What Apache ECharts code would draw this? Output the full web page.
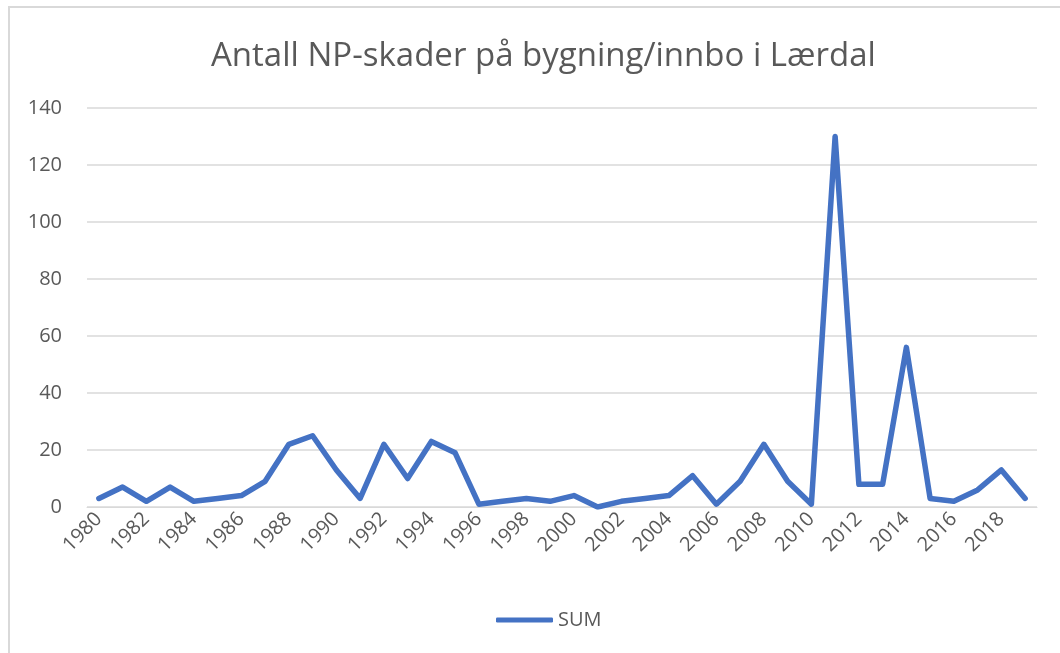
<!DOCTYPE html>
<html>
<head>
<meta charset="utf-8">
<script src="https://cdn.jsdelivr.net/npm/echarts@6/dist/echarts.min.js"></script>
<style>
  html, body { margin: 0; padding: 0; background: #fff; overflow: hidden; }
  #frame {
    position: absolute; left: 8px; top: 6px; width: 1100px; height: 700px;
    border: 2px solid #d9d9d9; box-sizing: border-box;
  }
  #chart { position: absolute; left: 0; top: 0; width: 1060px; height: 653px; }
</style>
</head>
<body>
<div id="frame"></div>
<div id="chart"></div>
<script>
const years = [];
for (let y = 1980; y <= 2019; y++) years.push(String(y));

const sumValues = [
  3, 7, 2, 7, 2, 3, 4, 9, 22, 25,
  13, 3, 22, 10, 23, 19, 1, 2, 3, 2,
  4, 0, 2, 3, 4, 11, 1, 9, 22, 9,
  1, 130, 8, 8, 56, 3, 2, 6, 13, 3
];

const yTicks = { min: 0, max: 140, interval: 20 };

const textColor = "#595959";
const fontFamily = "'Open Sans', 'Noto Sans', sans-serif";

const myChart = echarts.init(document.getElementById("chart"));
const option = {
  backgroundColor: "transparent",
  animation: false,
  title: {
    text: "Antall NP-skader på bygning/innbo i Lærdal",
    left: 206,
    top: 35,
    textStyle: {
      color: textColor,
      fontSize: 33,
      fontWeight: "normal",
      fontFamily: fontFamily
    }
  },
  grid: {
    left: 87,
    right: 23,
    top: 108,
    bottom: 146,
    containLabel: false
  },
  legend: {
    bottom: 18,
    left: 491,
    itemWidth: 57,
    itemHeight: 5,
    itemGap: 10,
    textStyle: { color: textColor, fontSize: 20, fontFamily: fontFamily },
    data: [{ name: "SUM", icon: "roundRect" }]
  },
  xAxis: {
    type: "category",
    data: years,
    boundaryGap: true,
    axisLine: { lineStyle: { color: "#d9d9d9", width: 1 } },
    axisTick: { show: false },
    axisLabel: {
      interval: 1,
      rotate: 45,
      color: textColor,
      fontSize: 20,
      fontFamily: fontFamily,
      margin: 9
    }
  },
  yAxis: {
    type: "value",
    min: yTicks.min,
    max: yTicks.max,
    interval: yTicks.interval,
    axisLine: { show: false },
    axisTick: { show: false },
    splitLine: { lineStyle: { color: "#d9d9d9", width: 1.5 } },
    axisLabel: {
      color: textColor,
      fontSize: 20,
      fontFamily: fontFamily,
      margin: 25
    }
  },
  series: [
    {
      name: "SUM",
      type: "line",
      data: sumValues,
      symbol: "none",
      lineStyle: { color: "#4472c4", width: 5.5, cap: "round", join: "round" },
      itemStyle: { color: "#4472c4" }
    }
  ]
};
myChart.setOption(option);
</script>
</body>
</html>
